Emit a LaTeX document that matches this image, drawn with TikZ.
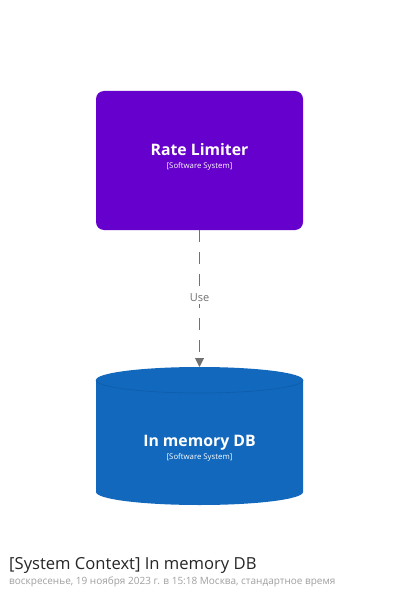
\documentclass[tikz,border=0pt]{standalone}
\usepackage{fontspec}
\setmainfont{Open Sans}
\usetikzlibrary{shapes.geometric,arrows.meta}
\definecolor{rlcol}{HTML}{6600CC}
\definecolor{dbcol}{HTML}{1168BD}
\definecolor{dbrim}{HTML}{0E5DAA}
\definecolor{relcol}{HTML}{707070}
\definecolor{subgray}{HTML}{A0A0A0}
\tikzset{
  sysbox/.style={draw=none, fill=rlcol, rounded corners=8bp, minimum width=207bp, minimum height=139bp, inner sep=0pt},
  boxtitle/.style={text=white, font=\bfseries\fontsize{15.8bp}{18bp}\selectfont, inner sep=0pt, anchor=base},
  boxsub/.style={text=white, font=\fontsize{7.8bp}{9bp}\selectfont, inner sep=0pt, anchor=base},
  rel/.style={draw=relcol, line width=1bp, dash pattern=on 12bp off 10bp, -{Triangle[length=9bp,width=9bp]}},
  rellabel/.style={text=relcol, font=\fontsize{11bp}{13bp}\selectfont, fill=white, inner sep=2bp},
}
\begin{document}
\begin{tikzpicture}[x=1bp,y=-1bp]
\useasboundingbox[fill=white] (0,0) rectangle (400,597);
% Rate Limiter
\node[sysbox] (rl) at (199.5,160.5) {};
\node[boxtitle] (rlt) at (199.5,156) {Rate Limiter};
\node[boxsub] (rls) at (199.5,169) {[Software System]};
% In memory DB cylinder
\fill[dbcol] (96,380) -- (96,492) arc[x radius=103.5, y radius=13, start angle=180, end angle=0] -- (303,380) arc[x radius=103.5, y radius=13, start angle=0, end angle=-180] -- cycle;
\draw[dbrim, line width=0.6bp] (96,380) arc[x radius=103.5, y radius=13, start angle=180, end angle=0];
\coordinate (dbtop) at (199.5,367);
\node[boxtitle] (dbt) at (199.5,446.5) {In memory DB};
\node[boxsub] (dbs) at (199.5,459) {[Software System]};
% relationship
\draw[rel] (rl.south) -- (dbtop);
\node[rellabel] (use) at (199.5,298) {Use};
% titles
\node[anchor=base west, inner sep=0pt, font=\fontsize{16.6bp}{19bp}\selectfont, text=black!85] (title) at (9,569) {[System Context] In memory DB};
\node[anchor=base west, inner sep=0pt, font=\fontsize{10bp}{12bp}\selectfont, text=subgray] (sub) at (9,584) {воскресенье, 19 ноября 2023 г. в 15:18 Москва, стандартное время};
\end{tikzpicture}
\end{document}
